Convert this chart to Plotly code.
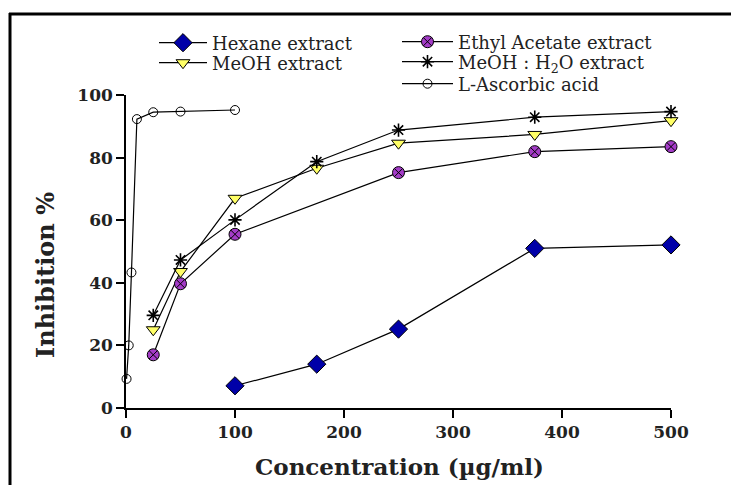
import plotly.graph_objects as go

# ---- data ----
hex_x = [100, 175, 250, 375, 500]
hex_y = [7.1, 14.0, 25.2, 51.0, 52.1]

ethyl_x = [25, 50, 100, 250, 375, 500]
ethyl_y = [17.0, 39.7, 55.5, 75.2, 81.9, 83.5]

meoh_x = [25, 50, 100, 175, 250, 375, 500]
meoh_y = [25.0, 43.6, 67.0, 76.6, 84.6, 87.4, 91.8]

mw_x = [25, 50, 100, 175, 250, 375, 500]
mw_y = [29.6, 47.3, 60.1, 78.7, 88.8, 92.9, 94.7]

asc_x = [0.5, 2.5, 5, 10, 25, 50, 100]
asc_y = [9.3, 20.0, 43.3, 92.3, 94.5, 94.7, 95.2]

x_ticks = [0, 100, 200, 300, 400, 500]
y_ticks = [0, 20, 40, 60, 80, 100]

W, H = 731, 485
L, R, T, B = 126, 60, 95, 77
pw, ph = W - L - R, H - T - B

serif = "DejaVu Serif, serif"
txt = "#222222"
line = dict(color="black", width=1.2)


def px_x(p):
    return (p - L) / pw


def px_y(p):
    return (H - B - p) / ph


fig = go.Figure()
fig.add_trace(go.Scatter(x=hex_x, y=hex_y, mode="lines+markers", name="Hexane extract",
                         line=line, legend="legend",
                         marker=dict(symbol="diamond", size=14, color="#0000A8",
                                     line=dict(color="black", width=1))))
fig.add_trace(go.Scatter(x=meoh_x, y=meoh_y, mode="lines+markers", name="MeOH extract",
                         line=line, legend="legend2",
                         marker=dict(symbol="triangle-down", size=12, color="#FFFF66",
                                     line=dict(color="black", width=1))))
fig.add_trace(go.Scatter(x=ethyl_x, y=ethyl_y, mode="lines+markers", name="Ethyl Acetate extract",
                         line=line, legend="legend3",
                         marker=dict(symbol="circle-x", size=12, color="#A43CC8",
                                     line=dict(color="black", width=1))))
fig.add_trace(go.Scatter(x=mw_x, y=mw_y, mode="lines+markers", name="MeOH : H<sub>2</sub>O extract",
                         line=line, legend="legend4",
                         marker=dict(symbol="asterisk-open", size=11, color="black",
                                     line=dict(color="black", width=1.6))))
fig.add_trace(go.Scatter(x=asc_x, y=asc_y, mode="lines+markers", name="L-Ascorbic acid",
                         line=line, legend="legend5",
                         marker=dict(symbol="circle-open", size=9, color="black",
                                     line=dict(color="black", width=1))))
fig.update_traces(cliponaxis=False)

legend_font = dict(family=serif, size=18, color=txt)


def leg(xpx, ypx, iw):
    return dict(x=px_x(xpx), y=px_y(ypx), xanchor="left", yanchor="middle",
                font=legend_font, bgcolor="rgba(0,0,0,0)", itemwidth=iw,
                borderwidth=0)


tickfont = dict(family=serif, size=17, color=txt, weight="bold")
fig.update_layout(
    width=W, height=H,
    margin=dict(l=L, r=R, t=T, b=B),
    plot_bgcolor="white", paper_bgcolor="white",
    showlegend=True,
    legend=leg(154, 43, 48),
    legend2=leg(154, 63, 48),
    legend3=leg(397, 42, 51),
    legend4=leg(397, 62, 51),
    legend5=leg(397, 84, 51),
    xaxis=dict(range=[0, 500], tickvals=x_ticks, ticktext=[str(v) for v in x_ticks],
               showgrid=False, zeroline=False, showline=True, linecolor="black", linewidth=1.5,
               ticks="outside", ticklen=8, tickwidth=1.5, tickcolor="black",
               tickfont=tickfont),
    yaxis=dict(range=[0, 100], tickvals=y_ticks, ticktext=[str(v) for v in y_ticks],
               showgrid=False, zeroline=False, showline=True, linecolor="black", linewidth=1.5,
               ticks="outside", ticklen=8, tickwidth=1.5, tickcolor="black",
               tickfont=tickfont),
    annotations=[
        dict(text="<b>Concentration (µg/ml)</b>", xref="paper", yref="paper",
             x=px_x(399), y=px_y(466), xanchor="center", yanchor="middle", showarrow=False,
             font=dict(family=serif, size=23, color=txt)),
        dict(text="<b>Inhibition %</b>", xref="paper", yref="paper", textangle=-90,
             x=px_x(45), y=px_y(275), xanchor="center", yanchor="middle", showarrow=False,
             font=dict(family=serif, size=24, color=txt)),
    ],
    shapes=[
        dict(type="line", xref="paper", yref="paper", x0=px_x(10), x1=px_x(10),
             y0=px_y(13), y1=px_y(500), line=dict(color="black", width=3)),
        dict(type="line", xref="paper", yref="paper", x0=px_x(9), x1=px_x(760),
             y0=px_y(14), y1=px_y(14), line=dict(color="black", width=3)),
    ],
)

fig.write_html("out.html", config={"displayModeBar": False},
               post_script="document.body.style.margin='0';document.body.style.overflow='hidden';")
